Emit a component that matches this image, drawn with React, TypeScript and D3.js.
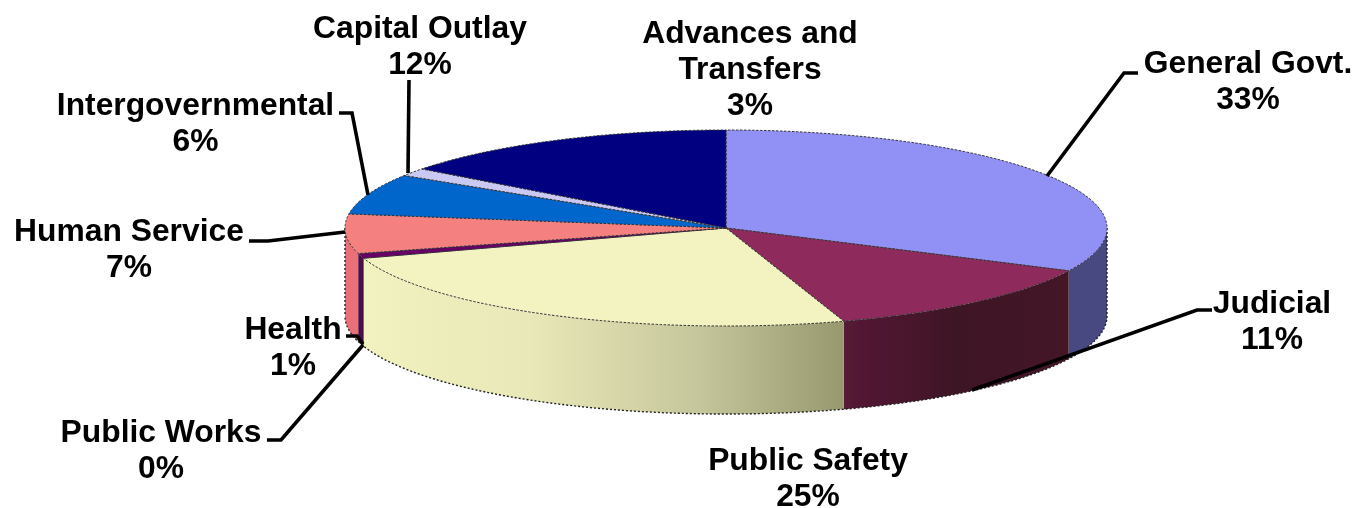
import React from "react";
import * as d3 from "d3";

// Labels as printed on the chart
const categories = ["General Govt.", "Judicial", "Public Safety", "Public Works", "Health", "Human Service", "Intergovernmental", "Capital Outlay", "Advances and|Transfers"];
const percents = [33, 11, 25, 0, 1, 7, 6, 12, 3];

// Visible slice sizes (share of the circle), clockwise from 12 o'clock
const sliceShares = [32.2, 12.8, 25, 0.8, 6.5, 6.7, 1.3, 14.7];
const sliceTops = ["#9191F5", "#8E2A5C", "#F3F3C2", "#660066", "#F58080", "#0066CC", "#C9C9F4", "#000080"];
const sliceWalls = ["#474A80", "url(#wallJudicial)", "url(#wallSafety)", "#4A0A4A", "#E86F76", "#00448A", "#8888AA", "#000050"];

const W = 1369, H = 508;
const CX = 726, CY = 228, RX = 381, RY = 98, DEPTH = 88;
const FONT = "'Liberation Sans', Arial, sans-serif";

const xS = d3.scaleLinear().domain([-1, 1]).range([CX - RX, CX + RX]);
const yS = d3.scaleLinear().domain([-1, 1]).range([CY - RY, CY + RY]);
const line = d3.line<[number, number]>();

const rim = (a0: number, a1: number, dy = 0): [number, number][] => {
  const n = Math.max(2, Math.ceil(Math.abs(a1 - a0) / 0.01));
  return d3.range(n + 1).map((i) => {
    const a = a0 + ((a1 - a0) * i) / n;
    return [xS(Math.sin(a)), yS(-Math.cos(a)) + dy] as [number, number];
  });
};

const pieGen = d3.pie<number>().sort(null).value((d) => d);
const arcs = pieGen(sliceShares);

// label layout: centre x, first baseline
const labelPos: [number, number][] = [
  [1248, 73], [1272, 313], [808, 470], [161, 441.5], [293, 338.5], [129, 241], [195.5, 115], [420, 38], [750, 43],
];
const leaders: [number, number][][] = [
  [[1138, 73], [1124, 73], [1047, 176]],
  [[1212, 310], [1197, 310], [972, 390]],
  [],
  [[267, 440], [281, 440], [363, 345]],
  [[346, 336], [357, 336], [363, 344]],
  [[249, 241], [268, 241], [345, 232]],
  [[339, 113], [352, 113], [368, 195]],
  [[409, 80], [408, 173]],
  [],
];

export default function App() {
  const HALF = Math.PI / 2, TH = Math.PI * 1.5;
  return (
    <svg width={W} height={H} viewBox={`0 0 ${W} ${H}`} style={{ position: "absolute", left: 0, top: 0, background: "#fff" }}>
      <defs>
        <linearGradient id="wallSafety" gradientUnits="userSpaceOnUse" x1={360} x2={845} y1={0} y2={0}>
          <stop offset="0" stopColor="#F2F2C0" />
          <stop offset="0.35" stopColor="#E8E8B8" />
          <stop offset="0.7" stopColor="#C6C69C" />
          <stop offset="1" stopColor="#98986F" />
        </linearGradient>
        <linearGradient id="wallJudicial" gradientUnits="userSpaceOnUse" x1={845} x2={1068} y1={0} y2={0}>
          <stop offset="0" stopColor="#561A36" />
          <stop offset="0.5" stopColor="#3E1226" />
          <stop offset="1" stopColor="#441528" />
        </linearGradient>
        <filter id="soft" x="0" y="0" width="100%" height="100%" filterUnits="objectBoundingBox">
          <feGaussianBlur stdDeviation="0.45" />
        </filter>
      </defs>
      <g filter="url(#soft)">
        <rect width={W} height={H} fill="#fff" />
        {/* walls */}
        {arcs.map((s, i) => {
          const a0 = Math.max(s.startAngle, HALF), a1 = Math.min(s.endAngle, TH);
          if (a1 <= a0) return null;
          const pts = [...rim(a0, a1), ...rim(a1, a0, DEPTH)];
          return <path key={i} d={line(pts) + "Z"} fill={sliceWalls[i]} />;
        })}
        {/* lower rim */}
        <path d={line(rim(HALF, TH, DEPTH))!} fill="none" stroke="#222" strokeWidth={1.4} strokeDasharray="2 2" />
        <path d={line([...rim(HALF, HALF, 0), ...rim(HALF, HALF, DEPTH)])!} fill="none" stroke="#222" strokeWidth={1.4} strokeDasharray="2 2" />
        <path d={line([...rim(TH, TH, 0), ...rim(TH, TH, DEPTH)])!} fill="none" stroke="#222" strokeWidth={1.4} strokeDasharray="2 2" />
        {/* top faces */}
        {arcs.map((s, i) => {
          const pts: [number, number][] = [[xS(0), yS(0)], ...rim(s.startAngle, s.endAngle)];
          return <path key={i} d={line(pts) + "Z"} fill={sliceTops[i]} stroke="#333" strokeWidth={1} strokeDasharray="2.5 1.5" strokeLinejoin="round" />;
        })}
        {/* leaders */}
        {leaders.map((l, i) => l.length ? <path key={i} d={line(l)!} fill="none" stroke="#000" strokeWidth={3.6} /> : null)}
        {/* labels */}
        {categories.map((c, i) => {
          const lines = [...c.split("|"), `${percents[i]}%`];
          return (
            <text key={i} x={labelPos[i][0]} y={labelPos[i][1]} textAnchor="middle" fontFamily={FONT} fontWeight={700} fontSize={31.8} fill="#000">
              {lines.map((t, j) => <tspan key={j} x={labelPos[i][0]} dy={j ? 36 : 0}>{t}</tspan>)}
            </text>
          );
        })}
      </g>
    </svg>
  );
}
